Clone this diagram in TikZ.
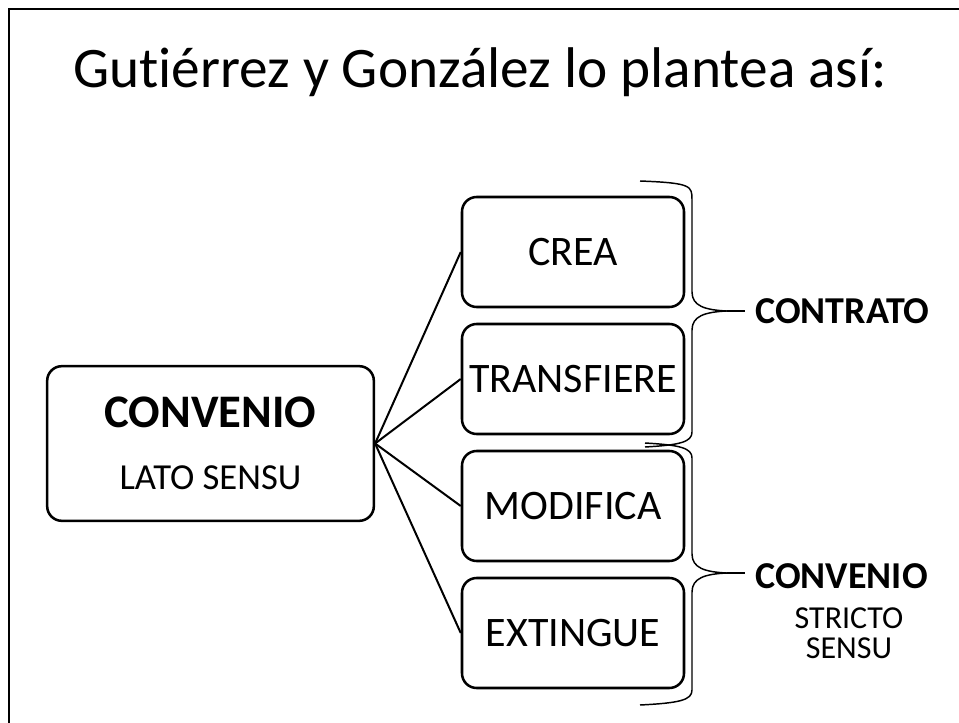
\documentclass[tikz,border=0pt]{standalone}
\usepackage{fontspec}
\setmainfont[Ligatures = NoCommon]{Carlito}
\begin{document}
\begin{tikzpicture}[x = 0.75pt, y = -0.75pt,
        box/.style     = {draw, line width = 1.9pt, rounded corners = 11pt,
                          inner xsep = 0pt, align = center},
        smallbox/.style = {box, minimum width = 166.5pt, minimum height = 82.5pt,
                          font = \fontsize{31.5pt}{38pt}\selectfont},
        fan/.style     = {line width = 1.5pt},
        brace/.style   = {line width = 1.1pt},
        tag/.style     = {font = \fontsize{28.5pt}{32pt}\selectfont\bfseries,
                          anchor = west, inner xsep = 7.5pt, inner ysep = 0pt}]
        \useasboundingbox (0,0) rectangle (959,723);
        \clip (0,0) rectangle (959,723);
        \draw[line width = 1.9pt] (9,750) -- (9,9) -- (980,9);
        % title
        \node[anchor = base, font = \fontsize{43pt}{50pt}\selectfont] (title) at (480,88)
              {Gutiérrez y González lo plantea así:};
        % left box
        \node[box, minimum width = 245pt, minimum height = 116pt,
              font = \fontsize{27.5pt}{46.5pt}\selectfont] (lato) at (210.5,443.5)
              {{\fontsize{35pt}{46.5pt}\selectfont\bfseries CONVENIO}\\LATO SENSU};
        \coordinate (hub) at (lato.east);
        % right boxes
        \node[smallbox] (crea)       at (573,252)   {CREA};
        \node[smallbox] (transfiere) at (573,379)   {TRANSFIERE};
        \node[smallbox] (modifica)   at (573,506)   {MODIFICA};
        \node[smallbox] (extingue)   at (573,633)   {EXTINGUE};
        \draw[fan] (hub) -- (crea.west);
        \draw[fan] (hub) -- (transfiere.west);
        \draw[fan] (hub) -- (modifica.west);
        \draw[fan] (hub) -- (extingue.west);
        % braces
        \coordinate (tipA) at (727,311);
        \coordinate (tipB) at (727,573);
        \draw[brace] (640,181) .. controls (692,183) and (692,186) .. (692,200)
              -- (692,292) .. controls (692,306) and (705,310) .. (tipA)
              .. controls (705,312) and (692,316) .. (692,330)
              -- (692,432) .. controls (692,442) and (680,445) .. (645,447);
        \draw[brace] (645,443) .. controls (680,445) and (692,448) .. (692,458)
              -- (692,554) .. controls (692,568) and (705,572) .. (tipB)
              .. controls (705,574) and (692,578) .. (692,592)
              -- (692,690) .. controls (692,700) and (680,703) .. (640,705);
        % labels
        \node[tag] (contrato) at (745,311) {CONTRATO};
        \node[tag] (convenio) at (745,576) {CONVENIO};
        \node[align = center, font = \fontsize{24pt}{22.5pt}\selectfont] (stricto) at (849,633)
              {STRICTO\\SENSU};
        \draw[brace] (tipA) -- (contrato.west);
        \draw[brace] (tipB) -- (tipB -| convenio.west);
      \end{tikzpicture}
\end{document}
